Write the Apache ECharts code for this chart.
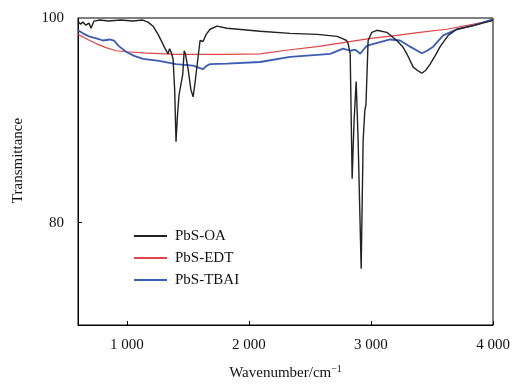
<!DOCTYPE html>
<html>
<head>
<meta charset="utf-8">
<script src="https://cdn.jsdelivr.net/npm/echarts@6/dist/echarts.min.js"></script>
<style>
html,body{margin:0;padding:0;background:#fff;}
#c{width:515px;height:384px;}
</style>
</head>
<body>
<div id="c"></div>
<script>
// Wavenumber (cm^-1) and transmittance
const oaWn = [600, 620, 640, 665, 690, 707, 731, 780, 850, 950, 1050, 1130, 1174, 1215, 1256, 1290, 1305, 1338, 1350, 1362, 1379, 1392, 1403, 1415, 1428, 1458, 1470, 1480, 1502, 1525, 1543, 1557, 1567, 1600, 1625, 1650, 1682, 1739, 1821, 2092, 2338, 2560, 2723, 2772, 2800, 2813, 2830, 2846, 2862, 2879, 2895, 2920, 2936, 2950, 2959, 2969, 2977, 3007, 3048, 3130, 3212, 3260, 3294, 3346, 3390, 3417, 3450, 3485, 3530, 3567, 3633, 3704, 3838, 3977, 4000];
const oaT  = [99.7, 99.4, 99.6, 99.3, 99.5, 99.0, 99.7, 99.8, 99.7, 99.8, 99.7, 99.8, 99.6, 99.2, 98.4, 97.6, 97.2, 96.5, 97.0, 96.7, 96.0, 93.0, 87.9, 90.5, 92.5, 94.5, 96.8, 96.5, 95.0, 93.0, 92.3, 93.5, 94.5, 97.8, 97.7, 98.4, 98.9, 99.2, 99.0, 98.7, 98.5, 98.4, 98.2, 97.95, 97.8, 97.5, 96.5, 84.3, 90.0, 93.8, 88.0, 75.5, 88.0, 91.0, 91.5, 95.0, 97.8, 98.6, 98.8, 98.6, 97.8, 97.2, 96.5, 95.2, 94.8, 94.6, 94.9, 95.5, 96.4, 97.2, 98.3, 98.9, 99.25, 99.7, 99.8];

const edtWn = [600, 680, 748, 830, 911, 1000, 1133, 1403, 1821, 2092, 2338, 2560, 2772, 3000, 3212, 3400, 3622, 3800, 3977, 4000];
const edtT  = [98.4, 97.9, 97.5, 97.1, 96.8, 96.7, 96.6, 96.45, 96.45, 96.5, 96.9, 97.2, 97.6, 98.0, 98.3, 98.6, 98.9, 99.3, 99.7, 99.8];

const tbaiWn = [600, 640, 690, 750, 805, 860, 895, 930, 993, 1060, 1133, 1264, 1403, 1543, 1600, 1625, 1650, 1682, 1821, 2092, 2338, 2560, 2666, 2772, 2830, 2871, 2895, 2912, 2945, 2969, 3060, 3157, 3239, 3321, 3380, 3417, 3460, 3510, 3592, 3704, 3850, 3977, 4000];
const tbaiT  = [98.8, 98.5, 98.2, 98.0, 97.8, 97.9, 97.8, 97.3, 96.7, 96.3, 96.0, 95.8, 95.5, 95.35, 95.1, 95.0, 95.3, 95.5, 95.55, 95.7, 96.2, 96.4, 96.5, 97.0, 96.8, 96.9, 96.7, 96.5, 97.0, 97.3, 97.6, 97.9, 97.8, 97.2, 96.8, 96.55, 96.8, 97.2, 98.3, 98.9, 99.3, 99.8, 99.9];

const xTicks = [1000, 2000, 3000, 4000];
const yTicks = [80, 100];

const seriesNames = ['PbS-OA', 'PbS-EDT', 'PbS-TBAI'];
const colors = ['#222222', '#e04448', '#3a5cb4'];

function zip(a, b) { return a.map((v, i) => [v, b[i]]); }

const chart = echarts.init(document.getElementById('c'));
const font = '"Liberation Serif", "Times New Roman", serif';

chart.setOption({
  animation: false,
  backgroundColor: '#fff',
  textStyle: { fontFamily: font },
  grid: { left: 78, right: 22, top: 18, bottom: 59, show: true, borderColor: '#000', borderWidth: 1, outerBoundsMode: 'none', containLabel: false },
  legend: {
    orient: 'vertical',
    left: 134,
    top: 228,
    padding: 0,
    icon: 'rect',
    itemWidth: 33,
    itemHeight: 2,
    itemGap: 6,
    data: seriesNames,
    textStyle: { fontFamily: font, fontSize: 15, color: '#111', lineHeight: 16, padding: [0, 0, 0, 3] }
  },
  xAxis: {
    type: 'value',
    min: 600,
    max: 4000,
    name: '{a|Wavenumber/cm}{s|−1}',
    nameLocation: 'middle',
    nameGap: 39,
    nameTextStyle: {
      rich: {
        a: { fontFamily: font, fontSize: 15, color: '#111' },
        s: { fontFamily: font, fontSize: 10, color: '#111', verticalAlign: 'top', padding: [0, 0, 8, 0] }
      }
    },
    axisLine: { lineStyle: { color: '#000', width: 1 } },
    axisTick: { inside: true, length: 4, customValues: xTicks, lineStyle: { color: '#000' } },
    axisLabel: {
      customValues: xTicks,
      margin: 13,
      fontFamily: font, fontSize: 15, color: '#111',
      formatter: v => String(v).replace(/\B(?=(\d{3})+(?!\d))/g, ' ')
    },
    splitLine: { show: false }
  },
  yAxis: {
    type: 'value',
    min: 70,
    max: 100,
    name: 'Transmittance',
    nameLocation: 'middle',
    nameGap: 52,
    nameTextStyle: { fontFamily: font, fontSize: 15, color: '#111', padding: [0, 0, 0, 22] },
    axisLine: { lineStyle: { color: '#000', width: 1 } },
    axisTick: { inside: true, length: 4, customValues: [80], lineStyle: { color: '#000' } },
    axisLabel: { customValues: yTicks, margin: 14, fontFamily: font, fontSize: 15, color: '#111' },
    splitLine: { show: false }
  },
  series: [
    { name: seriesNames[0], type: 'line', data: zip(oaWn, oaT), symbol: 'none', color: colors[0], lineStyle: { width: 1.4, color: colors[0] }, z: 3 },
    { name: seriesNames[1], type: 'line', data: zip(edtWn, edtT), symbol: 'none', color: colors[1], lineStyle: { width: 1.2, color: colors[1] }, z: 2 },
    { name: seriesNames[2], type: 'line', data: zip(tbaiWn, tbaiT), symbol: 'none', color: colors[2], lineStyle: { width: 1.8, color: colors[2] }, z: 2 }
  ]
});
</script>
</body>
</html>
